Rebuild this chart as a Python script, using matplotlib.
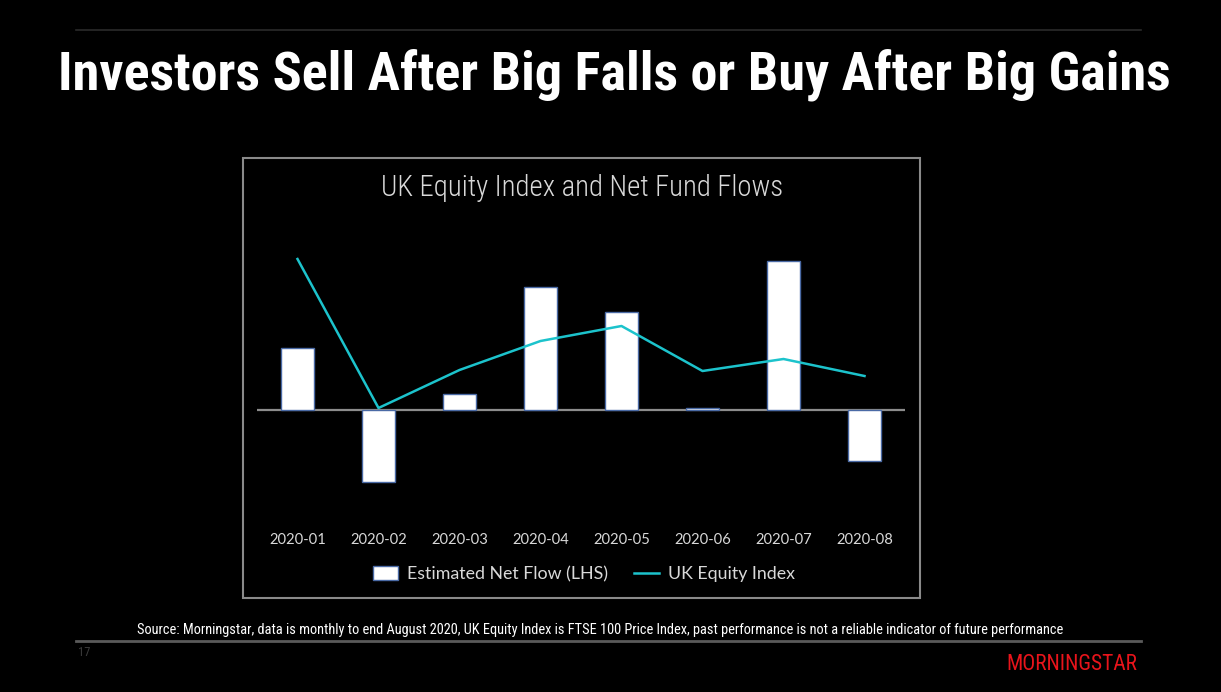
import matplotlib
matplotlib.use("Agg")
from matplotlib import pyplot as plt
from matplotlib.patches import Rectangle, Patch
from matplotlib.lines import Line2D
import numpy as np

months = ["2020-01", "2020-02", "2020-03", "2020-04", "2020-05", "2020-06", "2020-07", "2020-08"]
# estimated net flow (LHS)
net_flow = [1.25, -1.44, 0.33, 2.46, 1.96, 0.05, 2.98, -1.02]
# UK equity index, relative level
index_values = [151, 2, 40, 69, 84, 39, 51, 34]

W, H = 1221, 692
fig = plt.figure(figsize=(W / 100, H / 100), dpi=100, facecolor="black")

def px(x, y):
    return x / W, 1 - y / H

narrow = ["Liberation Sans Narrow", "Roboto Condensed", "DejaVu Sans"]
body = ["Lato", "DejaVu Sans"]
txt = "#d9d9d9"

# slide rules
fig.add_artist(Line2D([76 / W, 1141 / W], [1 - 30 / H] * 2, color="#2b2b2b", lw=1.2))
fig.add_artist(Line2D([76 / W, 1141 / W], [1 - 641 / H] * 2, color="#5a5a5a", lw=2))

fig.text(*px(614, 75), "Investors Sell After Big Falls or Buy After Big Gains",
         ha="center", va="center", color="white", fontsize=39, fontweight="bold",
         family=narrow)

# chart box
fig.add_artist(Rectangle(px(243, 598), (920 - 243) / W, (598 - 158) / H,
                         transform=fig.transFigure, fill=False, ec="#8a8a8a", lw=1.5))
fig.text(*px(582, 188), "UK Equity Index and Net Fund Flows", ha="center", va="center",
         color=txt, fontsize=20.7, fontweight="light", family=narrow)

ax = fig.add_axes([257 / W, 1 - 500 / H, (905 - 257) / W, (500 - 230) / H])
ax.set_facecolor("black")
x = np.arange(len(months))
ax.bar(x, net_flow, width=0.4, color="white", edgecolor="#4a6aa5", linewidth=1.0, zorder=2)
ax.axhline(0, color="#8c8c8c", lw=1.6, zorder=1)
ax.set_xlim(-0.5, len(months) - 0.5)
ax.set_ylim(-1.8, 3.6)
ax.set_xticks(x)
ax.set_xticklabels(months, color=txt, fontsize=10.6, family=body)
ax.tick_params(axis="x", length=0, pad=24)
ax.set_yticks([])
for s in ax.spines.values():
    s.set_visible(False)

ax2 = ax.twinx()
ax2.plot(x, index_values, color="#1cc3cc", lw=1.8, zorder=3)
ax2.set_ylim(-90, 180)
ax2.set_yticks([])
for s in ax2.spines.values():
    s.set_visible(False)

handles = [Patch(facecolor="white", edgecolor="#4a6aa5", lw=1.0),
           Line2D([], [], color="#1cc3cc", lw=1.8)]
fig.legend(handles, ["Estimated Net Flow (LHS)", "UK Equity Index"],
           loc="center", bbox_to_anchor=px(584, 574), ncol=2, frameon=False,
           prop={"family": body, "size": 12.8}, labelcolor=txt,
           handlelength=1.4, handleheight=0.8, handletextpad=0.5, columnspacing=1.5)

fig.text(*px(600, 630), "Source: Morningstar, data is monthly to end August 2020, UK Equity Index is "
         "FTSE 100 Price Index, past performance is not a reliable indicator of future performance",
         ha="center", va="center", color="white", fontsize=10.4, family=narrow)

fig.text(*px(78, 653), "17", ha="left", va="center", color="#3a3a3a", fontsize=9, family=narrow)
fig.text(*px(1137, 664), "MORNINGSTAR", ha="right", va="center", color="#e8141b",
         fontsize=15.5, family=narrow)

fig.savefig("out.png", dpi=100, facecolor="black")
